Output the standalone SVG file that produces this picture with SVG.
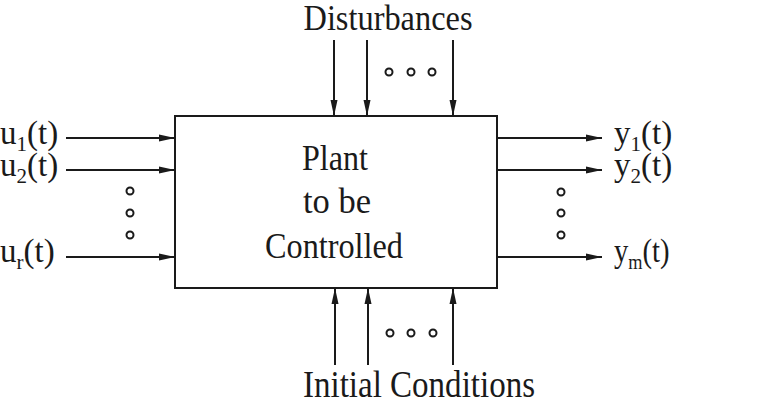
<svg xmlns="http://www.w3.org/2000/svg" width="764" height="410" viewBox="0 0 764 410">
<style>
.ln{stroke:#1a1a1a;stroke-width:2;fill:none}
.t{font-family:"Liberation Serif","Times New Roman",serif;fill:#1a1a1a}
.dot{fill:none;stroke:#1a1a1a;stroke-width:2}
</style>
<defs>
<marker id="ah" viewBox="0 0 16 8" refX="16" refY="4" markerWidth="16" markerHeight="8" markerUnits="userSpaceOnUse" orient="auto">
<path d="M0,0.5 L16,4 L0,7.5 Z" fill="#1a1a1a"/>
</marker>
</defs>
<rect width="764" height="410" fill="#fff"/>
<g id="plant">
<rect x="175" y="116" width="322" height="172" class="ln"/>
<text class="t" font-size="35" x="335" y="170" text-anchor="middle" textLength="66" lengthAdjust="spacingAndGlyphs">Plant</text>
<text class="t" font-size="35" x="337" y="213" text-anchor="middle" textLength="68" lengthAdjust="spacingAndGlyphs">to be</text>
<text class="t" font-size="36" x="334" y="258" text-anchor="middle" textLength="138" lengthAdjust="spacingAndGlyphs">Controlled</text>
</g>
<g id="inputs">
<text class="t" font-size="33" x="0" y="144">u<tspan font-size="21" dy="7">1</tspan><tspan dy="-7">(t)</tspan></text>
<text class="t" font-size="33" x="0" y="176">u<tspan font-size="21" dy="7">2</tspan><tspan dy="-7">(t)</tspan></text>
<text class="t" font-size="33" x="0" y="262">u<tspan font-size="21" dy="7">r</tspan><tspan dy="-7">(t)</tspan></text>
</g>
<g id="outputs">
<text class="t" font-size="33" x="614" y="144">y<tspan font-size="21" dy="7">1</tspan><tspan dy="-7">(t)</tspan></text>
<text class="t" font-size="33" x="614" y="176">y<tspan font-size="21" dy="7">2</tspan><tspan dy="-7">(t)</tspan></text>
<text class="t" font-size="33" transform="translate(614,262) scale(0.87,1)">y<tspan font-size="21" dy="7">m</tspan><tspan dy="-7">(t)</tspan></text>
</g>
<g id="disturbances">
<text class="t" font-size="35" x="388" y="30" text-anchor="middle" textLength="169" lengthAdjust="spacingAndGlyphs">Disturbances</text>
</g>
<g id="initial-conditions">
<text class="t" font-size="37" x="419" y="397" text-anchor="middle" textLength="232" lengthAdjust="spacingAndGlyphs">Initial Conditions</text>
</g>
<g id="connectors">
<line class="ln" x1="66" y1="138" x2="175" y2="138" marker-end="url(#ah)"/>
<line class="ln" x1="66" y1="170" x2="175" y2="170" marker-end="url(#ah)"/>
<line class="ln" x1="66" y1="257" x2="175" y2="257" marker-end="url(#ah)"/>
<line class="ln" x1="497" y1="138" x2="602" y2="138" marker-end="url(#ah)"/>
<line class="ln" x1="497" y1="170" x2="602" y2="170" marker-end="url(#ah)"/>
<line class="ln" x1="497" y1="257" x2="602" y2="257" marker-end="url(#ah)"/>
<line class="ln" x1="334" y1="40" x2="334" y2="116" marker-end="url(#ah)"/>
<line class="ln" x1="367" y1="40" x2="367" y2="116" marker-end="url(#ah)"/>
<line class="ln" x1="453" y1="40" x2="453" y2="116" marker-end="url(#ah)"/>
<line class="ln" x1="335" y1="365" x2="335" y2="288" marker-end="url(#ah)"/>
<line class="ln" x1="368" y1="365" x2="368" y2="288" marker-end="url(#ah)"/>
<line class="ln" x1="453" y1="365" x2="453" y2="288" marker-end="url(#ah)"/>
</g>
<g id="ellipses">
<circle class="dot" cx="130" cy="191" r="3.5"/>
<circle class="dot" cx="130" cy="213" r="3.5"/>
<circle class="dot" cx="130" cy="235" r="3.5"/>
<circle class="dot" cx="561" cy="192" r="3.5"/>
<circle class="dot" cx="561" cy="213" r="3.5"/>
<circle class="dot" cx="561" cy="235" r="3.5"/>
<circle class="dot" cx="389" cy="72" r="3.5"/>
<circle class="dot" cx="411" cy="72" r="3.5"/>
<circle class="dot" cx="432" cy="72" r="3.5"/>
<circle class="dot" cx="390" cy="333" r="3.5"/>
<circle class="dot" cx="411" cy="333" r="3.5"/>
<circle class="dot" cx="433" cy="333" r="3.5"/>
</g>
</svg>
